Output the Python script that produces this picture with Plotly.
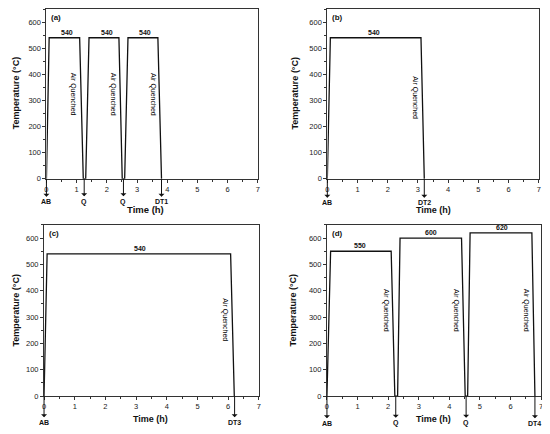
import plotly.graph_objects as go

# heat treatment profiles, time (h) vs temperature (C)
time_a = [0, 0.09, 1.10, 1.22, 1.30, 1.41, 2.40, 2.51, 2.59, 2.70, 3.69, 3.81]
temp_a = [0, 540, 540, 0, 0, 540, 540, 0, 0, 540, 540, 0]
time_b = [0, 0.10, 3.10, 3.21]
temp_b = [0, 540, 540, 0]
time_c = [0, 0.10, 6.08, 6.20]
temp_c = [0, 540, 540, 0]
time_d = [0, 0.12, 2.10, 2.22, 2.31, 2.39, 4.40, 4.52, 4.60, 4.68, 6.70, 6.80]
temp_d = [0, 550, 550, 0, 0, 600, 600, 0, 0, 620, 620, 0]

# plateau labels
hold_x_a = [0.67, 1.99, 3.27]
hold_txt_a = ["540", "540", "540"]
hold_x_b = [1.56]
hold_txt_b = ["540"]
hold_x_c = [3.13]
hold_txt_c = ["540"]
hold_x_d = [1.07, 3.39, 5.72]
hold_txt_d = ["550", "600", "620"]
hold_y_d = [550, 600, 620]

# "Air Quenched" labels
aq_x_a = [0.89, 2.21, 3.53]
aq_y_a = 325
aq_x_b = [2.90]
aq_y_b = 309
aq_x_c = [5.91]
aq_y_c = 290
aq_x_d = [1.95, 4.24, 6.53]
aq_y_d = 325

# arrows under the time axis
mark_x_a = [0, 1.25, 2.55, 3.81]
mark_txt_a = ["AB", "Q", "Q", "DT1"]
mark_x_b = [0, 3.21]
mark_txt_b = ["AB", "DT2"]
mark_x_c = [0, 6.21]
mark_txt_c = ["AB", "DT3"]
mark_x_d = [0, 2.25, 4.55, 6.80]
mark_txt_d = ["AB", "Q", "Q", "DT4"]

# page body has an 8px margin, so the figure starts at (8, 8)
OFF = 8
W, H = 550 - OFF, 434 - OFF


def px(x):
    return min(1, max(0, (x - OFF) / W))


def py(y):
    return min(1, max(0, 1 - (y - OFF) / H))


panels = [
    dict(n="", tag="(a)", t=time_a, T=temp_a, hx=hold_x_a, ht=hold_txt_a, hy=[540]*3,
         ax_=aq_x_a, ay_=aq_y_a, mx=mark_x_a, mt=mark_txt_a,
         box=(44.7, 257.7, 6.7, 180.3), title=(145, 211, 9.5), ytitle=14, ldy=23),
    dict(n="2", tag="(b)", t=time_b, T=temp_b, hx=hold_x_b, ht=hold_txt_b, hy=[540],
         ax_=aq_x_b, ay_=aq_y_b, mx=mark_x_b, mt=mark_txt_b,
         box=(327.7, 540.7, 7.3, 180.3), title=(435, 212, 9), ytitle=295, ldy=24),
    dict(n="3", tag="(c)", t=time_c, T=temp_c, hx=hold_x_c, ht=hold_txt_c, hy=[540],
         ax_=aq_x_c, ay_=aq_y_c, mx=mark_x_c, mt=mark_txt_c,
         box=(42.3, 258.7, 227, 400.7), title=(150, 424, 9), ytitle=14, ldy=26),
    dict(n="4", tag="(d)", t=time_d, T=temp_d, hx=hold_x_d, ht=hold_txt_d, hy=hold_y_d,
         ax_=aq_x_d, ay_=aq_y_d, mx=mark_x_d, mt=mark_txt_d,
         box=(327.3, 543, 227, 400.7), title=(435, 424, 9), ytitle=293, ldy=27),
]

fnt = "Liberation Sans, Arial, sans-serif"
fig = go.Figure()
annotations = []
layout = {}

for p in panels:
    xa = "x" + p["n"]
    ya = "y" + p["n"]
    l, r, t, b = p["box"]
    fig.add_trace(go.Scatter(x=p["t"], y=p["T"], mode="lines", xaxis=xa, yaxis=ya,
                             line=dict(color="#111", width=1.3), hoverinfo="none"))
    axis_common = dict(showgrid=False, zeroline=False, showline=True, mirror=True,
                       linecolor="#333", linewidth=1, ticks="outside", ticklen=3,
                       tickcolor="#333", tickfont=dict(size=7.5, family=fnt, color="#222"))
    layout["xaxis" + p["n"]] = dict(axis_common, domain=[px(l), px(r)], range=[0, 7], dtick=1,
                                     anchor=ya, minor=dict(dtick=0.5, ticklen=2, ticks="outside",
                                                           tickcolor="#333"))
    layout["yaxis" + p["n"]] = dict(axis_common, domain=[py(b), py(t)], range=[0, 650], dtick=100,
                                     anchor=xa, minor=dict(dtick=50, ticklen=2, ticks="outside",
                                                           tickcolor="#333"))
    xr = xa if p["n"] else "x"
    yr = ya if p["n"] else "y"
    # panel tag
    annotations.append(dict(text="<b>%s</b>" % p["tag"], x=0.012, y=0.99, xref=xr + " domain",
                            yref=yr + " domain", xanchor="left", yanchor="top", showarrow=False,
                            font=dict(size=8, family=fnt, color="#111")))
    # holding temperatures
    for hx, ht, hy in zip(p["hx"], p["ht"], p["hy"]):
        annotations.append(dict(text="<b>%s</b>" % ht, x=hx, y=hy, xref=xr, yref=yr,
                                xanchor="center", yanchor="bottom", showarrow=False,
                                font=dict(size=7, family=fnt, color="#111")))
    # air quenched notes
    for qx in p["ax_"]:
        annotations.append(dict(text="Air Quenched", x=qx, y=p["ay_"], xref=xr, yref=yr,
                                xanchor="center", yanchor="middle",
                                textangle=90, showarrow=False,
                                font=dict(size=7, family=fnt, color="#000")))
    # arrows with stage labels
    for mx, mt in zip(p["mx"], p["mt"]):
        annotations.append(dict(text="<b>%s</b>" % mt, x=mx, y=0, xref=xr, yref=yr,
                                showarrow=True, ax=0, ay=p["ldy"], arrowside="start",
                                arrowhead=2, arrowsize=0.8, arrowwidth=1, arrowcolor="#111",
                                standoff=0, startstandoff=0,
                                font=dict(size=7, family=fnt, color="#111")))
    # axis titles
    tx, ty, ts = p["title"]
    annotations.append(dict(text="<b>Time (h)</b>", x=px(tx), y=py(ty), xref="paper", yref="paper",
                            xanchor="center", yanchor="middle", showarrow=False,
                            font=dict(size=ts, family=fnt, color="#111")))
    annotations.append(dict(text="<b>Temperature (°C)</b>", x=px(p["ytitle"]), y=py((t + b) / 2),
                            xref="paper", yref="paper", xanchor="center", yanchor="middle",
                            showarrow=False, textangle=-90,
                            font=dict(size=9, family=fnt, color="#111")))

fig.update_layout(**layout)
fig.update_layout(width=W, height=H, margin=dict(l=0, r=0, t=0, b=0),
                  paper_bgcolor="white", plot_bgcolor="white", showlegend=False,
                  annotations=annotations)
fig.write_html("out.html")
